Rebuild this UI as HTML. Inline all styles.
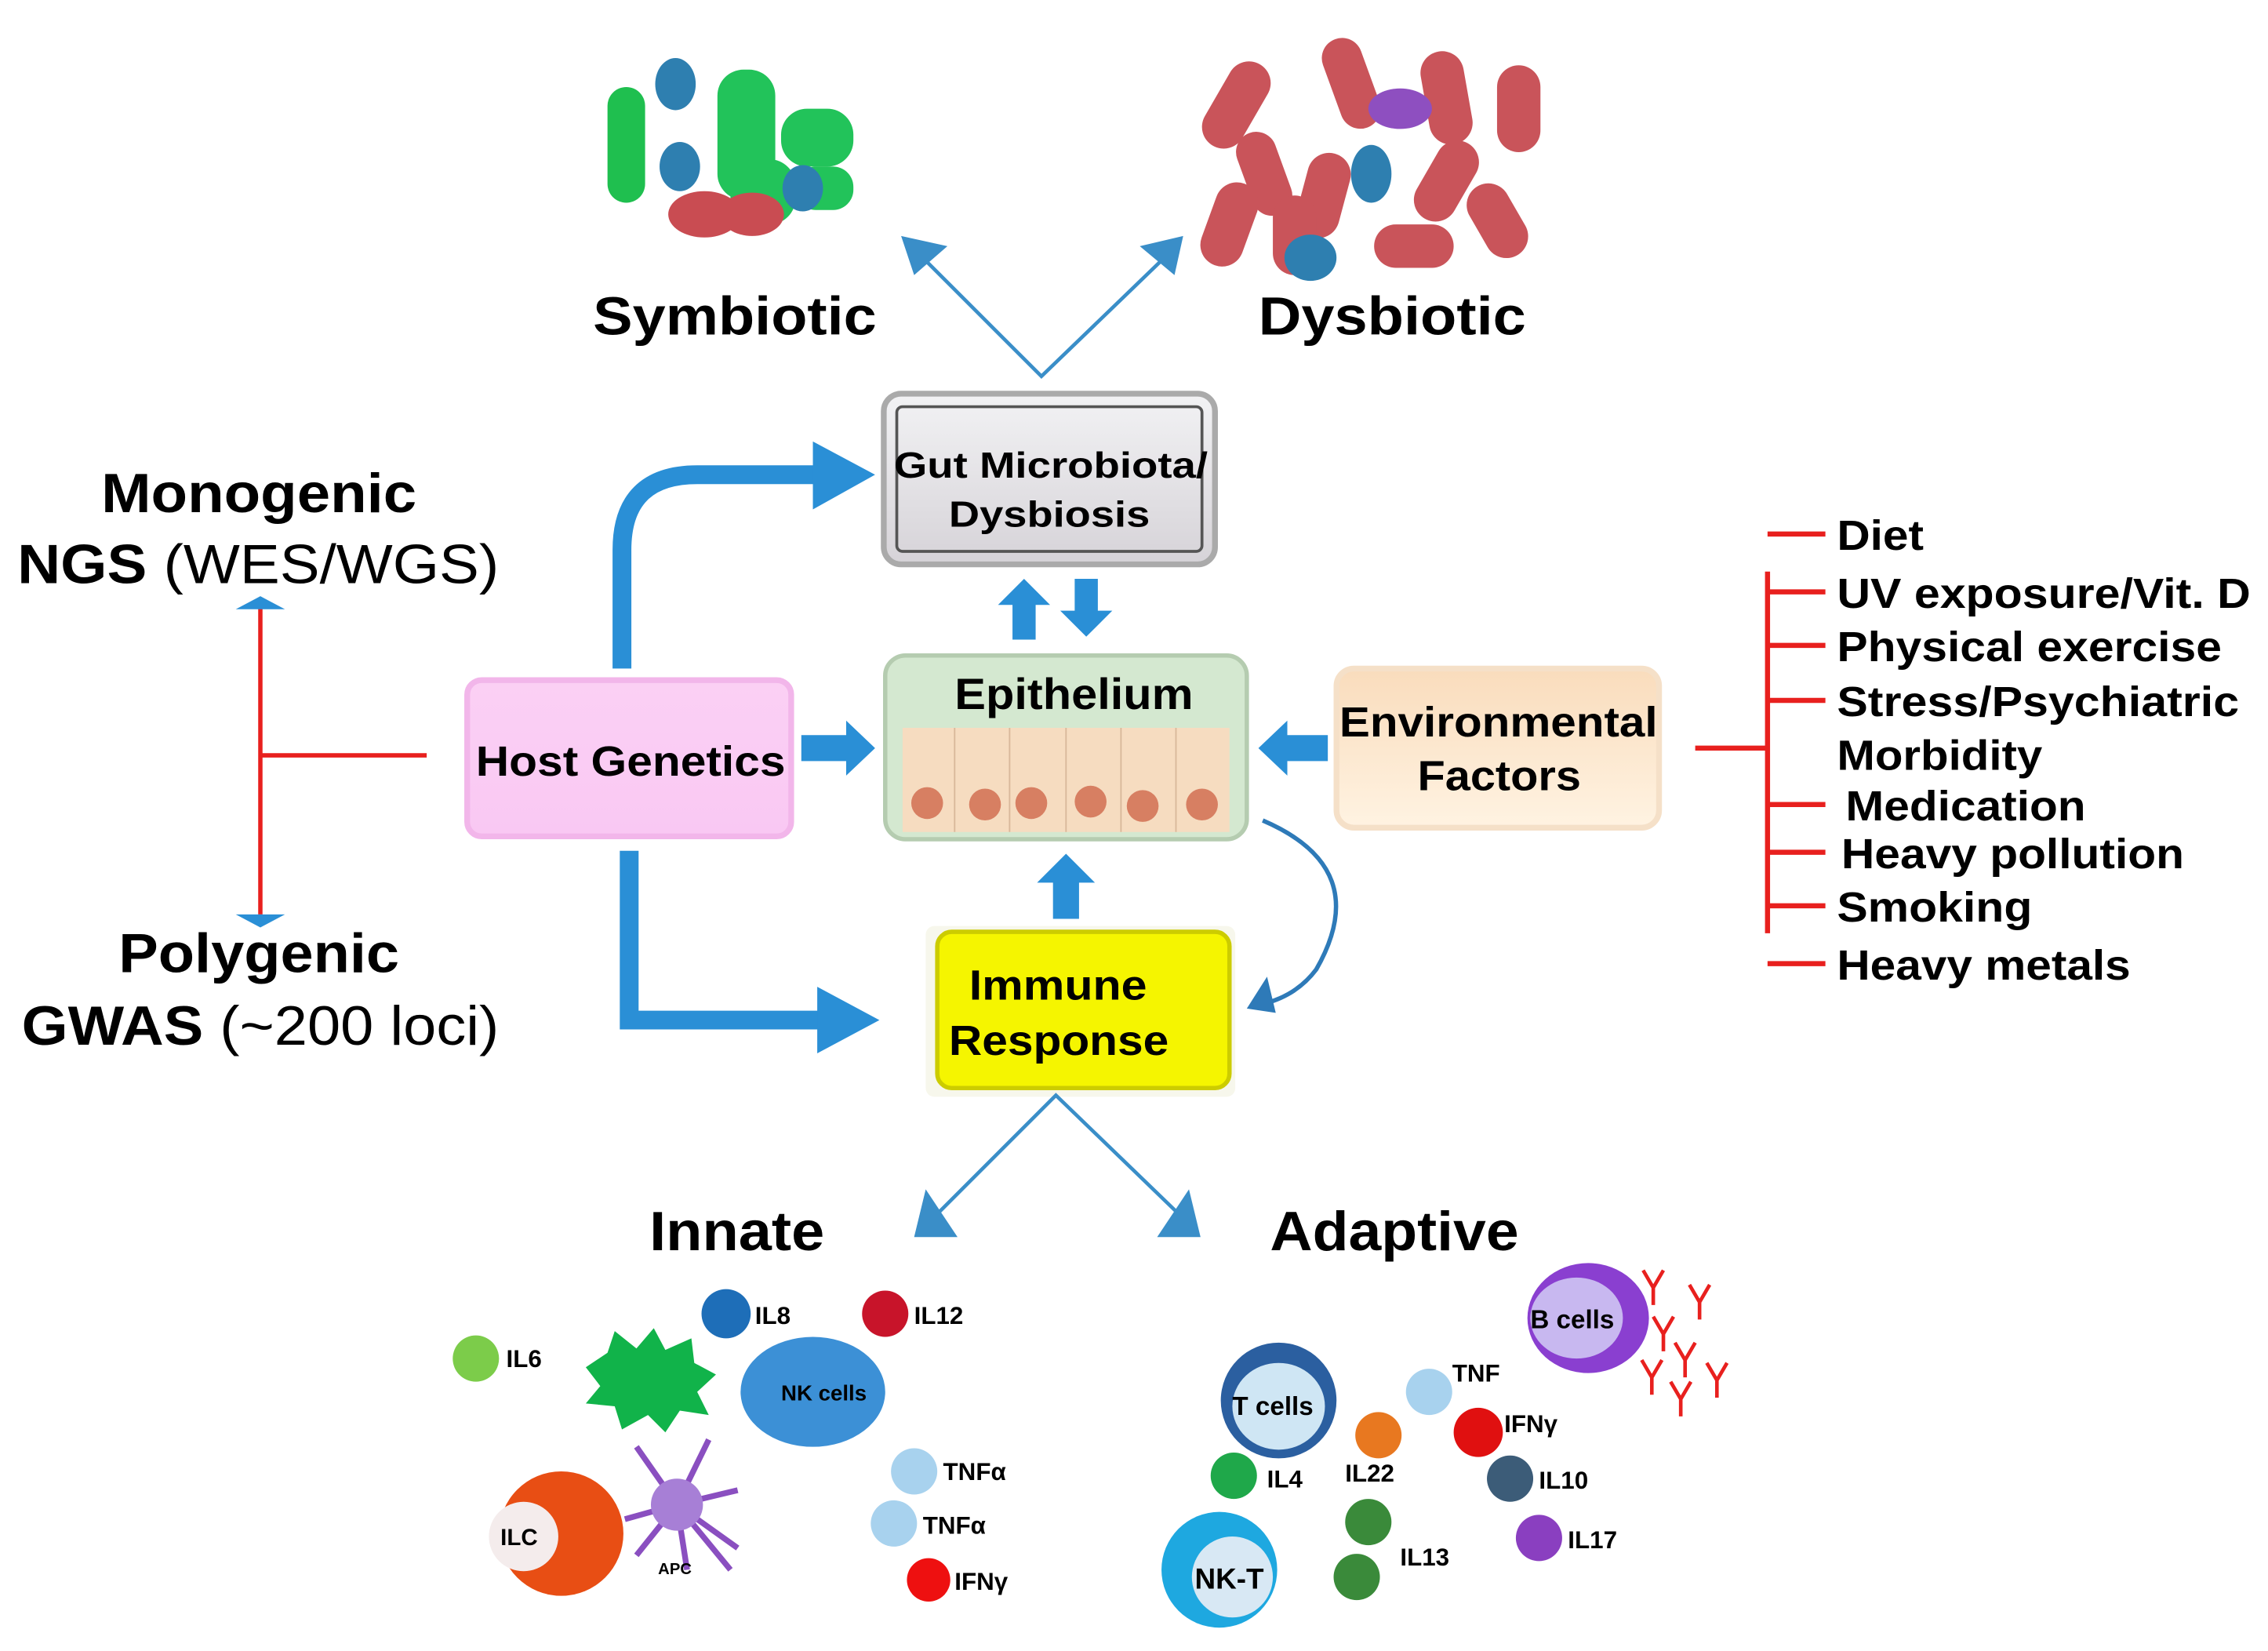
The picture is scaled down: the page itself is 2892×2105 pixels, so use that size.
<!DOCTYPE html>
<html><head><meta charset="utf-8"><style>
html,body{margin:0;padding:0;background:#fff;width:2892px;height:2105px;overflow:hidden}
svg{display:block}
text{font-family:"Liberation Sans",sans-serif;font-weight:bold;fill:#000}
</style></head><body>
<svg width="2892" height="2105" viewBox="0 0 1568 1141" xmlns="http://www.w3.org/2000/svg">
<defs>
<linearGradient id="gg" x1="0" y1="0" x2="0" y2="1"><stop offset="0" stop-color="#f2f2f4"/><stop offset="1" stop-color="#d6d3d8"/></linearGradient>
<linearGradient id="pk" x1="0" y1="0" x2="0" y2="1"><stop offset="0" stop-color="#fbd0f4"/><stop offset="1" stop-color="#f9c8f3"/></linearGradient>
<linearGradient id="pe" x1="0" y1="0" x2="0" y2="1"><stop offset="0" stop-color="#f9dcbc"/><stop offset="1" stop-color="#fff3e2"/></linearGradient>
</defs>

<!-- bacteria symbiotic -->
<g>
<rect x="420" y="60" width="26" height="80" rx="13" fill="#1fbf4f"/>
<rect x="496" y="48" width="40" height="90" rx="18" fill="#22c35a"/>
<rect x="540" y="75" width="50" height="40" rx="18" fill="#22c35a"/>
<rect x="505" y="110" width="45" height="45" rx="18" fill="#22c35a"/>
<rect x="550" y="115" width="40" height="30" rx="14" fill="#22c35a"/>
<ellipse cx="467" cy="58" rx="14" ry="18" fill="#2e7fb0"/>
<ellipse cx="470" cy="115" rx="14" ry="17" fill="#2e7fb0"/>
<ellipse cx="555" cy="130" rx="14" ry="16" fill="#2e7fb0"/>
<ellipse cx="487" cy="148" rx="25" ry="16" fill="#c94c52"/>
<ellipse cx="520" cy="148" rx="22" ry="15" fill="#c94c52"/>
</g>
<!-- bacteria dysbiotic -->
<g fill="#c9545a">
<rect x="840" y="40" width="30" height="65" rx="15" transform="rotate(30 855 72)"/>
<rect x="920" y="25" width="28" height="65" rx="14" transform="rotate(-20 934 57)"/>
<rect x="985" y="35" width="30" height="65" rx="15" transform="rotate(-10 1000 67)"/>
<rect x="1035" y="45" width="30" height="60" rx="15"/>
<rect x="860" y="90" width="28" height="60" rx="14" transform="rotate(-20 874 120)"/>
<rect x="835" y="125" width="30" height="60" rx="15" transform="rotate(20 850 155)"/>
<rect x="900" y="105" width="30" height="60" rx="15" transform="rotate(15 915 135)"/>
<rect x="985" y="95" width="30" height="60" rx="15" transform="rotate(30 1000 125)"/>
<rect x="1020" y="125" width="30" height="55" rx="15" transform="rotate(-30 1035 152)"/>
<rect x="950" y="155" width="55" height="30" rx="15"/>
<rect x="880" y="135" width="30" height="55" rx="15"/>
</g>
<ellipse cx="968" cy="75" rx="22" ry="14" fill="#8e4fc0"/>
<ellipse cx="948" cy="120" rx="14" ry="20" fill="#2e7fb0"/>
<ellipse cx="906" cy="178" rx="18" ry="16" fill="#2e7fb0"/>

<text x="410" y="231" font-size="37" textLength="196" lengthAdjust="spacingAndGlyphs">Symbiotic</text>
<text x="870" y="231" font-size="37" textLength="185" lengthAdjust="spacingAndGlyphs">Dysbiotic</text>

<!-- V arrows top -->
<polyline points="638,178 720,260 805,178" stroke="#3a8ec8" stroke-width="2.5" fill="none"/>
<polygon points="623,163 655,170 632,190" fill="#3a8ec8"/>
<polygon points="818,163 788,170 812,190" fill="#3a8ec8"/>

<!-- Gut microbiota box -->
<rect x="611" y="272" width="229" height="118" rx="12" fill="url(#gg)" stroke="#aaa" stroke-width="4"/>
<rect x="620" y="281" width="211" height="100" rx="4" fill="none" stroke="#555" stroke-width="2"/>
<text x="618" y="330" font-size="25" textLength="217" lengthAdjust="spacingAndGlyphs">Gut Microbiota/</text>
<text x="656" y="364" font-size="25" textLength="139" lengthAdjust="spacingAndGlyphs">Dysbiosis</text>

<!-- up/down arrows -->
<polygon points="700,442 716,442 716,418 726,418 708,400 690,418 700,418" fill="#2a8fd6"/>
<polygon points="743,400 759,400 759,422 769,422 751,440 733,422 743,422" fill="#2a8fd6"/>

<!-- Epithelium -->
<rect x="612" y="453" width="250" height="127" rx="14" fill="#d4e8d0" stroke="#b5ccb0" stroke-width="3"/>
<rect x="624" y="503" width="226" height="72" fill="#f6dcc0"/>
<g stroke="#d8b89a" stroke-width="1"><line x1="660" y1="503" x2="660" y2="575"/><line x1="698" y1="503" x2="698" y2="575"/><line x1="737" y1="503" x2="737" y2="575"/><line x1="775" y1="503" x2="775" y2="575"/><line x1="813" y1="503" x2="813" y2="575"/></g>
<g fill="#d77f62"><circle cx="641" cy="555" r="11"/><circle cx="681" cy="556" r="11"/><circle cx="713" cy="555" r="11"/><circle cx="754" cy="554" r="11"/><circle cx="790" cy="557" r="11"/><circle cx="831" cy="556" r="11"/></g>
<text x="660" y="490" font-size="30" textLength="165" lengthAdjust="spacingAndGlyphs">Epithelium</text>

<!-- Host genetics -->
<rect x="323" y="470" width="224" height="108" rx="10" fill="url(#pk)" stroke="#f2b6ea" stroke-width="4"/>
<text x="329" y="536" font-size="29" textLength="214" lengthAdjust="spacingAndGlyphs">Host Genetics</text>

<!-- Environmental -->
<rect x="924" y="462" width="223" height="110" rx="12" fill="url(#pe)" stroke="#f5e0c8" stroke-width="4"/>
<text x="926" y="509" font-size="29" textLength="220" lengthAdjust="spacingAndGlyphs">Environmental</text>
<text x="980" y="546" font-size="29" textLength="113" lengthAdjust="spacingAndGlyphs">Factors</text>

<!-- Immune -->
<rect x="640" y="640" width="214" height="118" rx="6" fill="#f2f2e0" opacity="0.6"/>
<rect x="648" y="644" width="202" height="108" rx="10" fill="#f5f500" stroke="#cccc00" stroke-width="3"/>
<text x="670" y="691" font-size="29" textLength="123" lengthAdjust="spacingAndGlyphs">Immune</text>
<text x="656" y="729" font-size="29" textLength="152" lengthAdjust="spacingAndGlyphs">Response</text>

<!-- thick host genetics arrows -->
<path d="M430 462 L430 380 Q430 328 482 328 L565 328" stroke="#2a8fd6" stroke-width="13" fill="none"/>
<polygon points="562,305 605,328 562,352" fill="#2a8fd6"/>
<path d="M435 588 L435 705 L568 705" stroke="#2a8fd6" stroke-width="13" fill="none"/>
<polygon points="565,682 608,705 565,728" fill="#2a8fd6"/>
<polygon points="554,508 585,508 585,498 605,517 585,536 585,526 554,526" fill="#2a8fd6"/>
<polygon points="918,508 890,508 890,498 870,517 890,536 890,526 918,526" fill="#2a8fd6"/>
<polygon points="728,635 746,635 746,610 757,610 737,590 717,610 728,610" fill="#2a8fd6"/>
<path d="M873 567 Q950 600 910 670 Q895 690 868 695" stroke="#2e7ab8" stroke-width="3" fill="none"/>
<polygon points="862,697 876,675 882,700" fill="#2e7ab8"/>

<!-- left genetics -->
<text x="70" y="354" font-size="38" textLength="218" lengthAdjust="spacingAndGlyphs">Monogenic</text>
<text x="12" y="403" font-size="38" textLength="333" lengthAdjust="spacingAndGlyphs">NGS <tspan font-weight="normal">(WES/WGS)</tspan></text>
<line x1="180" y1="420" x2="180" y2="632" stroke="#e8201e" stroke-width="3"/>
<line x1="180" y1="522" x2="295" y2="522" stroke="#e8201e" stroke-width="3"/>
<polygon points="163,421 180,412 197,421" fill="#2a8fd6"/>
<polygon points="163,632 180,641 197,632" fill="#2a8fd6"/>
<text x="82" y="672" font-size="38" textLength="194" lengthAdjust="spacingAndGlyphs">Polygenic</text>
<text x="15" y="722" font-size="38" textLength="330" lengthAdjust="spacingAndGlyphs">GWAS <tspan font-weight="normal">(~200 loci)</tspan></text>

<!-- right list -->
<g stroke="#e8201e" stroke-width="3.5">
<line x1="1222" y1="395" x2="1222" y2="645"/>
<line x1="1172" y1="517" x2="1222" y2="517"/>
<line x1="1222" y1="369" x2="1262" y2="369"/>
<line x1="1222" y1="409" x2="1262" y2="409"/>
<line x1="1222" y1="446" x2="1262" y2="446"/>
<line x1="1222" y1="484" x2="1262" y2="484"/>
<line x1="1222" y1="556" x2="1262" y2="556"/>
<line x1="1222" y1="589" x2="1262" y2="589"/>
<line x1="1222" y1="626" x2="1262" y2="626"/>
<line x1="1222" y1="666" x2="1262" y2="666"/>
</g>
<g font-size="29">
<text x="1270" y="380" textLength="60" lengthAdjust="spacingAndGlyphs">Diet</text>
<text x="1270" y="420" textLength="286" lengthAdjust="spacingAndGlyphs">UV exposure/Vit. D</text>
<text x="1270" y="457" textLength="266" lengthAdjust="spacingAndGlyphs">Physical exercise</text>
<text x="1270" y="495" textLength="278" lengthAdjust="spacingAndGlyphs">Stress/Psychiatric</text>
<text x="1270" y="532" textLength="142" lengthAdjust="spacingAndGlyphs">Morbidity</text>
<text x="1276" y="567" textLength="166" lengthAdjust="spacingAndGlyphs">Medication</text>
<text x="1273" y="600" textLength="237" lengthAdjust="spacingAndGlyphs">Heavy pollution</text>
<text x="1270" y="637" textLength="135" lengthAdjust="spacingAndGlyphs">Smoking</text>
<text x="1270" y="677" textLength="203" lengthAdjust="spacingAndGlyphs">Heavy metals</text>
</g>

<!-- bottom V -->
<polyline points="645,842 730,757 818,842" stroke="#3a8ec8" stroke-width="2.5" fill="none"/>
<polygon points="632,855 640,822 662,855" fill="#3a8ec8"/>
<polygon points="830,855 822,822 800,855" fill="#3a8ec8"/>
<text x="449" y="864" font-size="38" textLength="121" lengthAdjust="spacingAndGlyphs">Innate</text>
<text x="878" y="864" font-size="38" textLength="172" lengthAdjust="spacingAndGlyphs">Adaptive</text>

<!-- innate cells -->
<g font-size="17">
<circle cx="329" cy="939" r="16" fill="#7ccc4a"/><text x="350" y="945">IL6</text>
<circle cx="502" cy="908" r="17" fill="#1e6eb8"/><text x="522" y="915">IL8</text>
<circle cx="612" cy="908" r="16" fill="#c8142a"/><text x="632" y="915">IL12</text>
<polygon points="405,945 420,935 425,920 440,932 452,918 460,933 478,925 480,942 495,950 482,962 490,978 470,975 460,990 448,978 430,988 425,972 405,970 415,958" fill="#11b34a"/>
<ellipse cx="562" cy="962" rx="50" ry="38" fill="#3c90d6"/>
<text x="540" y="968" font-size="15">NK cells</text>
<circle cx="632" cy="1017" r="16" fill="#a8d2ee"/><text x="652" y="1023">TNFα</text>
<circle cx="618" cy="1053" r="16" fill="#a8d2ee"/><text x="638" y="1060">TNFα</text>
<circle cx="642" cy="1092" r="15" fill="#ee1010"/><text x="660" y="1099">IFNγ</text>
<circle cx="388" cy="1060" r="43" fill="#e84e14"/><circle cx="362" cy="1062" r="24" fill="#f4ecec"/>
<text x="346" y="1068" font-size="16">ILC</text>
<g stroke="#8a4fc0" stroke-width="4" fill="none"><path d="M468 1040 L440 1000 M468 1040 L490 995 M468 1040 L510 1030 M468 1040 L510 1070 M468 1040 L440 1075 M468 1040 L432 1050 M468 1040 L475 1085 M468 1040 L505 1085"/></g>
<circle cx="468" cy="1040" r="18" fill="#a77fd6"/>
<text x="455" y="1088" font-size="11">APC</text>
</g>

<!-- adaptive cells -->
<g font-size="17">
<ellipse cx="1098" cy="911" rx="42" ry="38" fill="#8a3fd0"/><ellipse cx="1090" cy="911" rx="32" ry="28" fill="#c8b8f0"/>
<text x="1058" y="918" font-size="18">B cells</text>
<g stroke="#e8201e" stroke-width="2.5" fill="none">
<path d="M1136 878 L1143 890 L1150 878 M1143 890 L1143 902"/>
<path d="M1168 888 L1175 900 L1182 888 M1175 900 L1175 912"/>
<path d="M1143 910 L1150 922 L1157 910 M1150 922 L1150 934"/>
<path d="M1158 928 L1165 940 L1172 928 M1165 940 L1165 952"/>
<path d="M1135 940 L1142 952 L1149 940 M1142 952 L1142 964"/>
<path d="M1180 942 L1187 954 L1194 942 M1187 954 L1187 966"/>
<path d="M1155 955 L1162 967 L1169 955 M1162 967 L1162 979"/>
</g>
<ellipse cx="884" cy="968" rx="40" ry="40" fill="#2b5fa0"/><ellipse cx="884" cy="972" rx="32" ry="30" fill="#cfe6f4"/>
<text x="852" y="978" font-size="18">T cells</text>
<circle cx="988" cy="962" r="16" fill="#a8d2ee"/><text x="1004" y="955">TNF</text>
<circle cx="1022" cy="990" r="17" fill="#e01010"/><text x="1040" y="990">IFNγ</text>
<circle cx="953" cy="992" r="16" fill="#e87820"/>
<circle cx="853" cy="1020" r="16" fill="#1fa84a"/><text x="876" y="1028">IL4</text>
<text x="930" y="1024">IL22</text>
<circle cx="1044" cy="1022" r="16" fill="#3c5c78"/><text x="1064" y="1029">IL10</text>
<circle cx="946" cy="1052" r="16" fill="#3a8a3a"/>
<circle cx="938" cy="1090" r="16" fill="#3a8a3a"/><text x="968" y="1082">IL13</text>
<circle cx="1064" cy="1063" r="16" fill="#8a3fc0"/><text x="1084" y="1070">IL17</text>
<circle cx="843" cy="1085" r="40" fill="#1ea8e0"/><circle cx="852" cy="1090" r="28" fill="#d8e8f4"/>
<text x="826" y="1098" font-size="20">NK-T</text>
</g>
</svg>
</body></html>
